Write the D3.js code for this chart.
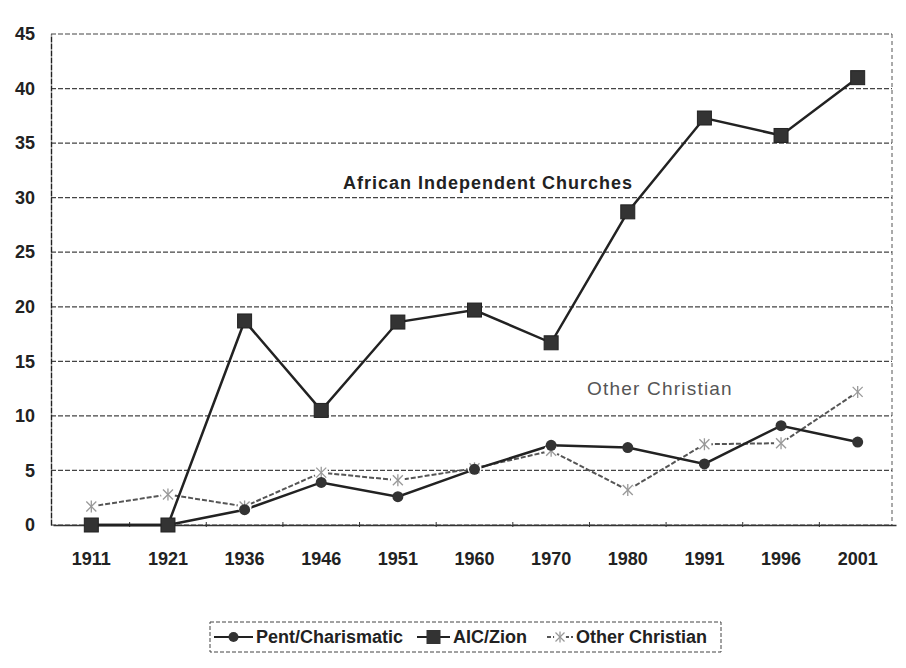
<!DOCTYPE html>
<html>
<head>
<meta charset="utf-8">
<script src="https://cdn.jsdelivr.net/npm/d3@7"></script>
<style>
  body { margin: 0; background: #fff; }
  svg { font-family: "Liberation Sans", Arial, sans-serif; }
</style>
</head>
<body>
<div class="canvas"></div>
<script>
// Chart data
const years = ['1911', '1921', '1936', '1946', '1951', '1960', '1970', '1980', '1991', '1996', '2001'];
const pentValues = [0, 0, 1.4, 3.9, 2.6, 5.1, 7.3, 7.1, 5.6, 9.1, 7.6];
const aicValues = [0, 0, 18.7, 10.5, 18.6, 19.7, 16.7, 28.7, 37.3, 35.7, 41];
const otherValues = [1.7, 2.8, 1.7, 4.8, 4.1, 5.2, 6.8, 3.2, 7.4, 7.5, 12.2];
const yTicks = [0, 5, 10, 15, 20, 25, 30, 35, 40, 45];
const legendLabels = ['Pent/Charismatic', 'AIC/Zion', 'Other Christian'];

const svgWidth = 906;
const svgHeight = 668;

const svg = d3.select('.canvas')
    .append('svg')
    .attr('width', svgWidth)
    .attr('height', svgHeight);

const margin = { top: 34, right: 14, bottom: 143, left: 51 };
const graphWidth = svgWidth - margin.left - margin.right;
const graphHeight = svgHeight - margin.top - margin.bottom;

const graph = svg.append('g')
    .attr('transform', `translate(${margin.left}, ${margin.top})`);

const x = d3.scaleBand()
    .domain(years)
    .range([2, graphWidth + 4]);

const y = d3.scaleLinear()
    .domain([0, 45])
    .range([graphHeight, 0]);

const cx = d => x(d) + x.bandwidth() / 2;

// gridlines
graph.append('g')
    .selectAll('line')
    .data(yTicks)
    .enter().append('line')
    .attr('x1', 0)
    .attr('x2', graphWidth)
    .attr('y1', d => y(d))
    .attr('y2', d => y(d))
    .attr('stroke', '#444')
    .attr('stroke-width', 1.2)
    .attr('stroke-dasharray', '5,2');

// right border of the plot
graph.append('line')
    .attr('x1', graphWidth).attr('x2', graphWidth)
    .attr('y1', 0).attr('y2', graphHeight)
    .attr('stroke', '#555')
    .attr('stroke-dasharray', '4,3');

// y axis
const yAxis = d3.axisLeft(y).tickValues(yTicks).tickSize(0).tickPadding(16);
const yAxisGroup = graph.append('g').call(yAxis);
yAxisGroup.select('.domain').attr('stroke', '#222').attr('stroke-width', 1.4).attr('stroke-dasharray', '6,1');
yAxisGroup.selectAll('text')
    .attr('font-size', 18).attr('font-weight', 'bold').attr('fill', '#222');

// x axis
const xAxis = d3.axisBottom(x).tickSize(0).tickPadding(27);
const xAxisGroup = graph.append('g')
    .attr('transform', `translate(0, ${graphHeight})`)
    .call(xAxis);
xAxisGroup.select('.domain').attr('stroke', '#333').attr('stroke-width', 1.4);
xAxisGroup.selectAll('text')
    .attr('font-size', 18).attr('font-weight', 'bold').attr('fill', '#222');

// small tick marks between categories
graph.append('g')
    .selectAll('line')
    .data(years.slice(1))
    .enter().append('line')
    .attr('x1', d => x(d)).attr('x2', d => x(d))
    .attr('y1', graphHeight - 3).attr('y2', graphHeight + 2)
    .attr('stroke', '#333');

const line = d3.line()
    .x((d, i) => cx(years[i]))
    .y(d => y(d));

// Other Christian line (grey dashed)
graph.append('path')
    .datum(otherValues)
    .attr('d', line)
    .attr('fill', 'none')
    .attr('stroke', '#555')
    .attr('stroke-width', 2)
    .attr('stroke-dasharray', '5,2');

// Pent/Charismatic line
graph.append('path')
    .datum(pentValues)
    .attr('d', line)
    .attr('fill', 'none')
    .attr('stroke', '#222')
    .attr('stroke-width', 2.5);

// AIC/Zion line
graph.append('path')
    .datum(aicValues)
    .attr('d', line)
    .attr('fill', 'none')
    .attr('stroke', '#222')
    .attr('stroke-width', 2.5);

// star marker drawn as an asterisk
function drawStar(g, px, py, s) {
    const star = g.append('g').attr('transform', `translate(${px}, ${py})`)
        .attr('stroke', '#999').attr('stroke-width', 1.3);
    star.append('line').attr('x1', -s).attr('x2', s).attr('y1', -s).attr('y2', s);
    star.append('line').attr('x1', -s).attr('x2', s).attr('y1', s).attr('y2', -s);
    star.append('line').attr('x1', 0).attr('x2', 0).attr('y1', -s - 1).attr('y2', s + 1);
}

otherValues.forEach((v, i) => {
    graph.append('circle')
        .attr('cx', cx(years[i])).attr('cy', y(v)).attr('r', 7)
        .attr('fill', '#fff');
    drawStar(graph, cx(years[i]), y(v), 5);
});

graph.selectAll('.pent-dot')
    .data(pentValues)
    .enter().append('circle')
    .attr('class', 'pent-dot')
    .attr('cx', (d, i) => cx(years[i]))
    .attr('cy', d => y(d))
    .attr('r', 5.5)
    .attr('fill', '#333');

graph.selectAll('.aic-sq')
    .data(aicValues)
    .enter().append('rect')
    .attr('class', 'aic-sq')
    .attr('x', (d, i) => cx(years[i]) - 7)
    .attr('y', d => y(d) - 7)
    .attr('width', 14)
    .attr('height', 14)
    .attr('fill', '#333')
    .attr('stroke', '#222');

// annotations
svg.append('text')
    .attr('x', 488)
    .attr('y', 189)
    .attr('text-anchor', 'middle')
    .attr('font-size', 18)
    .attr('font-weight', 'bold')
    .attr('letter-spacing', 1)
    .attr('fill', '#222')
    .text('African Independent Churches');

svg.append('text')
    .attr('x', 660)
    .attr('y', 395)
    .attr('text-anchor', 'middle')
    .attr('font-size', 19)
    .attr('letter-spacing', 1.2)
    .attr('fill', '#555')
    .text('Other Christian');

// legend
const legend = svg.append('g').attr('transform', 'translate(210, 622)');
legend.append('rect')
    .attr('width', 511).attr('height', 30)
    .attr('fill', 'none')
    .attr('stroke', '#444')
    .attr('stroke-dasharray', '4,2');

const legendLineX = [4, 207, 337];  // where each legend line starts
const legendTextX = [46, 243, 366]; // where each legend label starts
legendLabels.forEach((label, i) => {
    const item = legend.append('g').attr('transform', 'translate(0, 15)');
    const x0 = legendLineX[i];
    const x1 = legendTextX[i] - 3;
    const mid = (x0 + x1) / 2;
    item.append('line')
        .attr('x1', x0).attr('x2', x1).attr('y1', 0).attr('y2', 0)
        .attr('stroke', i === 2 ? '#555' : '#222')
        .attr('stroke-width', 2)
        .attr('stroke-dasharray', i === 2 ? '4,2' : null);
    if (i === 0) {
        item.append('circle').attr('cx', mid).attr('cy', 0).attr('r', 5).attr('fill', '#333');
    } else if (i === 1) {
        item.append('rect').attr('x', mid - 7).attr('y', -7).attr('width', 14).attr('height', 14).attr('fill', '#333');
    } else {
        item.append('circle').attr('cx', mid).attr('cy', 0).attr('r', 6).attr('fill', '#fff');
        drawStar(item, mid, 0, 4.5);
    }
    item.append('text')
        .attr('x', legendTextX[i])
        .attr('y', 6)
        .attr('font-size', 18)
        .attr('font-weight', 'bold')
        .attr('fill', '#222')
        .text(label);
});
</script>
</body>
</html>
